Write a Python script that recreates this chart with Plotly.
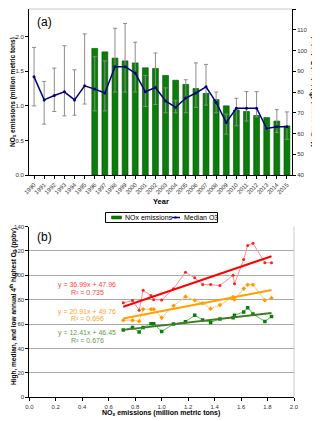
import plotly.graph_objs as go

# panel (a): yearly NOx emissions and median annual 4th highest O3
years = ["1990", "1991", "1992", "1993", "1994", "1995", "1996", "1997", "1998",
         "1999", "2000", "2001", "2002", "2003", "2004", "2005", "2006", "2007",
         "2008", "2009", "2010", "2011", "2012", "2013", "2014", "2015"]
nox_emissions = [None, None, None, None, None, None,
                 1.83, 1.78, 1.69, 1.65, 1.62, 1.55, 1.54, 1.44, 1.37, 1.31,
                 1.25, 1.18, 1.09, 1.00, 0.94, 0.92, 0.86, 0.83, 0.78, 0.71]
median_o3 = [87.3, 76.2, 78.3, 80.1, 76.2, 83.0, 81.4, 79.5, 92.2, 92.2, 89.1,
             80.1, 82.2, 75.7, 72.6, 77.1, 79.5, 82.5, 75.0, 65.3, 72.2, 72.2,
             72.2, 62.4, 63.2, 63.2]
o3_bar_high = [101.5, 85.1, 91.5, 102.3, 90.7, 108.0, 97.0, 95.0, 110.7, 113.0,
               104.0, 88.0, 98.8, 82.0, 76.0, 85.9, 94.0, 93.3, 80.0, 69.3, 77.0,
               80.2, 80.2, 63.0, 71.5, 70.4]
o3_bar_low = [73.3, 64.5, 70.6, 68.5, 68.8, 74.2, 70.9, 70.9, 80.0, 80.0, 80.0,
              73.0, 74.0, 70.0, 70.0, 70.0, 72.6, 73.7, 70.0, 59.7, 63.7, 66.0,
              68.0, 62.0, 60.5, 57.2]

# panel (b): high / median / low 4th highest O3 vs NOx, 1996-2015
high_o3 = [110.3, 110.3, 126.2, 124.5, 113.0, 93.0, 100.1, 91.6, 92.4, 92.4,
           97.9, 102.6, 89.0, 79.8, 80.0, 83.4, 87.7, 71.3, 79.3, 77.4]
low_o3 = [66.3, 62.2, 68.3, 73.5, 70.0, 67.2, 65.3, 64.2, 61.4, 63.4, 67.2,
          62.0, 60.0, 54.0, 60.3, 60.3, 57.3, 53.5, 57.3, 55.1]
fit_slopes = [36.99, 20.91, 12.41]
fit_intercepts = [47.96, 49.76, 46.45]
fit_r2 = ["0.735", "0.696", "0.676"]

FONT = "Arial, Liberation Sans, sans-serif"
PAGE_PAD = 8            # default body margin of the html page
W, H = 320 - PAGE_PAD, 421 - PAGE_PAD


def px_x(p):
    # screen pixel -> paper fraction
    return (p - PAGE_PAD) / W


def px_y(p):
    return 1 - (p - PAGE_PAD) / H


nox_b = nox_emissions[6:]
med_b = median_o3[6:]

fig = go.Figure()

fig.add_trace(go.Bar(
    x=years, y=nox_emissions, name="NOx emissions", showlegend=False,
    marker=dict(color="#0a7d0a", line=dict(color="#045004", width=0.6)),
    xaxis="x", yaxis="y"
))
fig.add_trace(go.Scatter(
    x=years, y=median_o3, name="Median O3", mode="lines+markers", showlegend=False,
    line=dict(color="#00007f", width=1.5),
    marker=dict(color="#00007f", size=3),
    error_y=dict(type="data", symmetric=False,
                 array=[h - m for h, m in zip(o3_bar_high, median_o3)],
                 arrayminus=[m - lo for m, lo in zip(median_o3, o3_bar_low)],
                 color="#8c8c8c", thickness=1, width=2),
    xaxis="x", yaxis="y2"
))

series_b = [
    (high_o3, "#ff8c8c", "#ff2020", "circle", 3, "#ff0000"),
    (med_b, "#ffc870", "#ff9900", "diamond", 3.5, "#ffa000"),
    (low_o3, "#6cb65a", "#0a7d0a", "square", 3.5, "#3f7a25"),
]
for (vals, lc, mc, sym, ms, tc), k, b in zip(series_b, fit_slopes, fit_intercepts):
    fig.add_trace(go.Scatter(
        x=nox_b, y=vals, mode="lines+markers", showlegend=False,
        line=dict(color=lc, width=1), marker=dict(color=mc, size=ms, symbol=sym),
        xaxis="x3", yaxis="y3"
    ))
    xs = [min(nox_b), max(nox_b)]
    fig.add_trace(go.Scatter(
        x=xs, y=[k * v + b for v in xs], mode="lines", showlegend=False,
        line=dict(color=tc, width=2), xaxis="x3", yaxis="y3"
    ))

annotations = []
eq_colors = ["#ff3c3c", "#ffa21e", "#6a9a4a"]
eq_y = [(285, 292.5), (311.5, 318), (332.5, 340)]
for k, b, r2, c, (y1, y2) in zip(fit_slopes, fit_intercepts, fit_r2, eq_colors, eq_y):
    annotations.append(dict(text=f"y = {k:.2f}x + {b:.2f}", x=px_x(87), y=px_y(y1),
                            font=dict(size=7, color=c)))
    annotations.append(dict(text=f"R² = {r2}", x=px_x(87), y=px_y(y2),
                            font=dict(size=7, color=c)))

title_font = dict(size=6.5, color="black", family=FONT)
annotations += [
    dict(text="(a)", x=px_x(44), y=px_y(22), font=dict(size=12)),
    dict(text="(b)", x=px_x(44), y=px_y(237), font=dict(size=12)),
    dict(text="<b>NO<sub>x</sub> emissions (million metric tons)</b>",
         x=px_x(13), y=px_y(92), textangle=-90, font=title_font),
    dict(text="<b>Median annual 4<sup>th</sup> highest O<sub>3</sub> (ppbv)</b>",
         x=px_x(313), y=px_y(92), textangle=-90, font=title_font),
    dict(text="<b>Year</b>", x=px_x(161), y=px_y(201), font=dict(size=7.5)),
    dict(text="<b>High, median, and low annual 4<sup>th</sup> highest O<sub>3</sub> (ppbv)</b>",
         x=px_x(13), y=px_y(307), textangle=-90, font=title_font),
    dict(text="<b>NO<sub>x</sub> emissions (million metric tons)</b>",
         x=px_x(161), y=px_y(413), font=dict(size=7)),
    # hand-drawn legend labels
    dict(text="NOx emissions", x=px_x(123), y=px_y(217.5), xanchor="left",
         font=dict(size=7)),
    dict(text="Median O3", x=px_x(182), y=px_y(217.5), xanchor="left",
         font=dict(size=7)),
]
for a in annotations:
    a.setdefault("xanchor", "center")
    a.update(xref="paper", yref="paper", showarrow=False, yanchor="middle")

tick_font = dict(size=6, color="#333", family=FONT)
axis_common = dict(showline=True, linecolor="black", linewidth=1, ticks="outside",
                   ticklen=3, tickcolor="black", tickfont=tick_font,
                   showgrid=False, zeroline=False, automargin=False)

shapes = [
    dict(type="line", xref="x domain", yref="y domain", x0=0, x1=1, y0=1, y1=1,
         line=dict(color="#c8c8c8", width=1)),
    dict(type="line", xref="x3 domain", yref="y3 domain", x0=1, x1=1, y0=0, y1=1,
         line=dict(color="#c8c8c8", width=1)),
    # legend box and keys
    dict(type="rect", xref="paper", yref="paper", x0=px_x(105.5), x1=px_x(217.5),
         y0=px_y(222.5), y1=px_y(212.5), line=dict(color="black", width=1),
         fillcolor="white"),
    dict(type="rect", xref="paper", yref="paper", x0=px_x(111.5), x1=px_x(121.5),
         y0=px_y(219), y1=px_y(216), line=dict(color="#045004", width=0.5),
         fillcolor="#0a7d0a"),
    dict(type="line", xref="paper", yref="paper", x0=px_x(171.5), x1=px_x(180),
         y0=px_y(217.5), y1=px_y(217.5), line=dict(color="#00007f", width=1.5)),
    dict(type="rect", xref="paper", yref="paper", x0=px_x(174.5), x1=px_x(176.5),
         y0=px_y(218.5), y1=px_y(216.5), line=dict(width=0), fillcolor="#00007f"),
]

fig.update_layout(
    width=W, height=H,
    margin=dict(l=0, r=0, t=0, b=0),
    paper_bgcolor="white", plot_bgcolor="white",
    font=dict(family=FONT, size=7, color="black"),
    bargap=0.42,
    showlegend=False,
    xaxis=dict(axis_common, domain=[px_x(29), px_x(292)], anchor="y",
               range=[-0.5, 25.5], tickangle=-45, type="category"),
    yaxis=dict(axis_common, domain=[px_y(175), px_y(9)], anchor="x",
               range=[0, 2.4], tickvals=[0, 0.5, 1.0, 1.5, 2.0], tickformat=".1f"),
    yaxis2=dict(axis_common, overlaying="y", side="right", anchor="x",
                range=[40, 120], dtick=10),
    xaxis3=dict(axis_common, domain=[px_x(29.3), px_x(294)], anchor="y3",
                range=[0, 2], dtick=0.2, tickformat=".1f"),
    yaxis3=dict(axis_common, domain=[px_y(397.3), px_y(226.5)], anchor="x3",
                range=[0, 140], dtick=20, showgrid=True, gridcolor="#a8a8a8",
                gridwidth=1.3),
    annotations=annotations,
    shapes=shapes,
)

fig.write_html("out.html")
